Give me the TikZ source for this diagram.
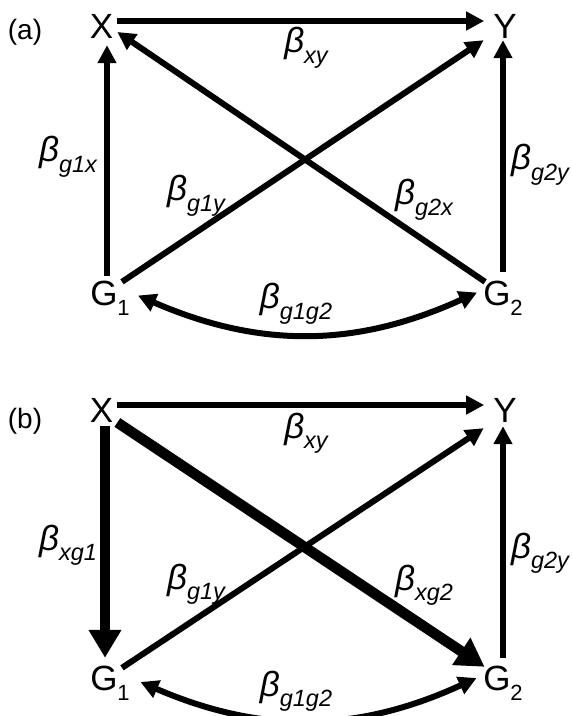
\documentclass[tikz,border=0pt]{standalone}
\usepackage{fontspec}
\setmainfont{Liberation Sans}
\usetikzlibrary{arrows.meta,positioning}
\newcommand\gsub[1]{\raisebox{-0.3em}{\fontsize{22}{22}\selectfont #1}}
\newcommand\coef[1]{\textit{β}\raisebox{-0.3em}{\fontsize{23.5}{23.5}\selectfont\itshape #1}}
\tikzset{
  var/.style={font=\fontsize{35}{35}\selectfont, inner sep=4pt, text height=25pt, text depth=0pt},
  gvar/.style={var, text depth=6pt},
  coefnode/.style={font=\fontsize{35}{35}\selectfont, inner sep=0pt},
  panel/.style={font=\fontsize{28}{28}\selectfont, inner sep=0pt},
  arrow/.style={-{Triangle[length=18pt,width=18pt]}, line width=6pt},
  bigarrow/.style={-{Triangle[length=28pt,width=31pt]}, line width=10.5pt},
  twoway/.style={{Triangle[length=18pt,width=18pt]}-{Triangle[length=18pt,width=18pt]}, line width=6pt}
}
\begin{document}
\begin{tikzpicture}[x=1pt, y=-1pt, node distance=10pt, on grid]
  \useasboundingbox (0,0) rectangle (572,716);

  % (a)
  \node[panel] (pa) at (25,32) {(a)};
  \node[var] (xa) at (101.5,25.5) {X};
  \node[var, right=403.5pt of xa] (ya) {Y};
  \node[gvar, below right=270pt and 8.5pt of xa] (g1a) {G\gsub{1}};
  \node[gvar, right=393pt of g1a] (g2a) {G\gsub{2}};

  \draw[arrow] ([yshift=4.5pt]xa.east) -- ([xshift=-5pt,yshift=4.5pt]ya.west);
  \draw[arrow] ([xshift=-3pt]g1a.north) -- ([xshift=5.5pt,yshift=-3pt]xa.south);
  \draw[arrow] ([yshift=4pt]g2a.north) -- ([xshift=-2pt,yshift=2pt]ya.south);
  \draw[arrow] ([xshift=6pt,yshift=-6pt]g2a.north west) -- ([yshift=-6.5pt]xa.east);
  \draw[arrow] ([xshift=12pt,yshift=-6pt]g1a.north) -- ([xshift=-5.5pt,yshift=2pt]ya.south west);
  \draw[twoway] ([xshift=4pt]g1a.east) to[bend right=24] ([xshift=-2pt,yshift=3pt]g2a.west);

  \node[coefnode] (bxya) at (306,48) {\coef{xy}};
  \node[coefnode] (bg1xa) at (68,157) {\coef{g1x}};
  \node[coefnode] (bg2ya) at (540,165) {\coef{g2y}};
  \node[coefnode] (bg1ya) at (196,196) {\coef{g1y}};
  \node[coefnode] (bg2xa) at (424,200) {\coef{g2x}};
  \node[coefnode] (bg1g2a) at (296,304) {\coef{g1g2}};

  % (b)
  \node[panel] (pb) at (25,421) {(b)};
  \node[var] (xb) at (101.5,409.5) {X};
  \node[var, right=403.5pt of xb] (yb) {Y};
  \node[gvar, below right=271pt and 8.5pt of xb] (g1b) {G\gsub{1}};
  \node[gvar, right=393pt of g1b] (g2b) {G\gsub{2}};

  \draw[arrow] ([yshift=4.5pt]xb.east) -- ([xshift=-5pt,yshift=4.5pt]yb.west);
  \draw[bigarrow] ([xshift=3.5pt]xb.south) -- ([xshift=-5pt,yshift=3pt]g1b.north);
  \draw[arrow] ([yshift=3pt]g2b.north) -- ([xshift=-2pt]yb.south);
  \draw[bigarrow] ([yshift=-13pt]xb.east) -- ([xshift=5.5pt,yshift=-6pt]g2b.north west);
  \draw[arrow] ([xshift=12pt,yshift=-7pt]g1b.north) -- ([xshift=-5.5pt,yshift=-2pt]yb.south west);
  \draw[twoway] ([xshift=6.5pt,yshift=-1.5pt]g1b.east) to[bend right=24] ([xshift=-2.5pt,yshift=2.5pt]g2b.west);

  \node[coefnode] (bxyb) at (306,433) {\coef{xy}};
  \node[coefnode] (bxg1b) at (68,545) {\coef{xg1}};
  \node[coefnode] (bg2yb) at (540,553) {\coef{g2y}};
  \node[coefnode] (bg1yb) at (196,584) {\coef{g1y}};
  \node[coefnode] (bxg2b) at (424,585) {\coef{xg2}};
  \node[coefnode] (bg1g2b) at (296,691) {\coef{g1g2}};
\end{tikzpicture}
\end{document}
